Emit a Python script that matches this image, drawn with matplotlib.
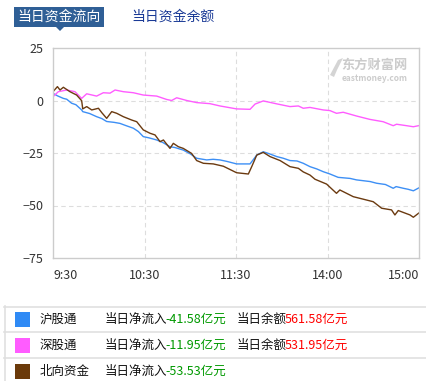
import matplotlib
matplotlib.use("Agg")
import matplotlib.pyplot as plt
from matplotlib.patches import Rectangle, Polygon
from matplotlib.lines import Line2D

plt.rcParams['font.family'] = ['Noto Sans CJK SC', 'DejaVu Sans']

# ---------------- data ----------------
x_ticks = [0, 60, 120, 180, 240]
x_tick_labels = ["9:30", "10:30", "11:30", "14:00", "15:00"]
y_ticks = [25, 0, -25, -50, -75]

sh_min = [0, 3, 6.8, 9, 12.2, 15, 18.8, 19.5, 24, 28.6, 32, 35.2, 40, 43.9, 48, 52.7, 56, 59.2, 63, 68, 72,
          76.7, 80, 85.4, 90, 94.2, 100.8, 105, 109.5, 114, 120.4, 129.2, 133.6, 137.9, 142, 146.7, 151,
          155.4, 160, 164.1, 168.5, 173, 177.2, 181.6, 187, 194.8, 199, 203.5, 208, 212.2, 218, 223.1,
          225, 229.7, 233, 236.3, 240]
sh_val = [3.4, 2.2, 1.0, 0.6, -1.3, -2.0, -4.5, -5.3, -6.2, -7.7, -8.6, -10.0, -10.4, -10.9, -12.0, -13.2,
          -14.8, -17.2, -17.8, -18.8, -20.0, -22.0, -22.4, -23.6, -25.4, -27.5, -28.3, -28.0, -28.3, -29.0,
          -30.2, -30.2, -26.0, -24.4, -25.4, -26.7, -27.5, -28.6, -28.8, -29.9, -31.5, -32.6, -33.9, -35.0,
          -36.6, -37.1, -37.8, -38.2, -38.6, -39.4, -40.0, -41.8, -41.0, -41.8, -42.3, -43.0, -41.58]

sz_min = [0, 3.5, 9.0, 14.4, 18.8, 22.1, 28.6, 33, 37.4, 40.7, 46.1, 52.7, 59.2, 68, 74.5, 77.8, 81.1,
          87.7, 94.2, 102.9, 109.5, 120.4, 129.2, 132.5, 137.9, 146.7, 155.4, 160.9, 164.1, 168.5, 177.2,
          181.6, 185.9, 190.3, 199.1, 207.8, 216.5, 223.1, 225.3, 231.9, 236.3, 240]
sz_val = [1.8, 4.2, 5.0, 4.2, 1.0, 3.2, 2.1, 3.7, 3.5, 5.0, 4.2, 3.7, 2.6, 2.1, 0.5, 0.0, 1.3,
          0.0, -1.0, -1.5, -2.6, -4.0, -4.2, -1.7, -0.2, -1.6, -2.9, -2.6, -3.7, -3.3, -4.5,
          -4.8, -6.1, -5.6, -7.4, -9.0, -10.1, -12.0, -11.3, -12.0, -12.5, -11.95]

nb_min = [0, 2.9, 4.6, 6.8, 11.1, 15.5, 18.8, 19.5, 22.1, 25.4, 29.8, 32, 35.2, 38.5, 41.8, 46.1, 51.6,
          54.9, 59.2, 63.6, 66.9, 70.2, 72.4, 76.7, 78.9, 82.2, 85.4, 90.9, 94.2, 98.6, 105.1, 111.7,
          120.4, 128.1, 130.3, 133.6, 137.9, 142.3, 148.9, 155.4, 160.9, 164.1, 168.5, 171.8, 179.4,
          185.9, 188.1, 196.9, 203.5, 210, 215.5, 222, 224.2, 226.4, 234.1, 236.3, 240]
nb_val = [4.2, 6.6, 5.0, 6.3, 4.2, 2.6, -0.1, -4.0, -2.9, -4.5, -3.7, -5.8, -8.5, -5.3, -6.1, -7.7, -9.3,
          -10.1, -14.0, -15.6, -16.4, -19.6, -18.8, -22.8, -20.4, -22.0, -22.8, -25.2, -28.6, -29.9, -30.2,
          -31.3, -34.4, -35.0, -31.5, -26.0, -24.7, -26.7, -28.6, -31.5, -32.3, -34.0, -35.5, -37.5, -39.8,
          -44.2, -42.6, -45.8, -47.0, -48.2, -51.3, -52.1, -54.5, -52.4, -54.5, -55.6, -53.53]

names = ["沪股通", "深股通", "北向资金"]
net_inflow = ["-41.58", "-11.95", "-53.53"]
balance = ["561.58", "531.95", None]
line_colors = ["#3d8ff5", "#ff5cff", "#6b3a10"]
box_colors = ["#2f8af5", "#ff5cff", "#6b3a0a"]

# ---------------- figure ----------------
W, H = 426, 381
fig = plt.figure(figsize=(W / 100, H / 100), dpi=100)
fig.patch.set_facecolor("white")

def fx(px):
    return px / W

def fy(py):
    return 1 - py / H

ax = fig.add_axes([fx(53), fy(258), 366 / W, 210 / H])
ax.plot(sh_min, sh_val, color=line_colors[0], lw=1.0)
ax.plot(sz_min, sz_val, color=line_colors[1], lw=1.0)
ax.plot(nb_min, nb_val, color=line_colors[2], lw=1.0)

ax.set_xlim(0, 240)
ax.set_ylim(-75, 25)
ax.set_xticks(x_ticks)
ax.set_xticklabels(x_tick_labels)
ax.set_yticks(y_ticks)
ax.tick_params(length=0, labelsize=9, colors="#333333")
ax.tick_params(axis="x", pad=8)
ax.tick_params(axis="y", pad=7)
labs = ax.get_xticklabels()
labs[0].set_ha("left")
labs[-1].set_ha("right")
for s in ax.spines.values():
    s.set_color("#cccccc")
    s.set_linewidth(1.0)
for yv in [0, -25, -50]:
    ax.axhline(yv, color="#dddddd", lw=0.8, ls=(0, (4, 3)), zorder=0)
for xv in [60, 120, 180]:
    ax.axvline(xv, color="#dddddd", lw=0.8, ls=(0, (4, 3)), zorder=0)

# watermark
ax.text(0.97, 0.955, "东方财富网", transform=ax.transAxes, ha="right", va="top",
        fontsize=9.5, color="#cccccc", fontweight="bold")
ax.text(0.97, 0.875, "eastmoney.com", transform=ax.transAxes, ha="right", va="top",
        fontsize=6, color="#cccccc", fontweight="bold")
# logo swoosh (shape)
fig.patches.append(Polygon([(fx(330), fy(75)), (fx(338), fy(60)), (fx(343), fy(58)),
                            (fx(337), fy(70)), (fx(334), fy(77))],
                           closed=True, transform=fig.transFigure,
                           facecolor="#d4d4d4", edgecolor="none"))

# ---------------- tabs ----------------
fig.patches.append(Rectangle((fx(14), fy(27)), 90 / W, 20 / H, transform=fig.transFigure,
                             facecolor="#2f5f96", edgecolor="none"))
fig.patches.append(Polygon([(fx(56), fy(27)), (fx(64), fy(27)), (fx(60), fy(31))],
                           closed=True, transform=fig.transFigure,
                           facecolor="#2f5f96", edgecolor="none"))
fig.text(fx(59), fy(17), "当日资金流向", ha="center", va="center", fontsize=10, color="white")
fig.text(fx(131), fy(17), "当日资金余额", ha="left", va="center", fontsize=10, color="#1a3a96")

# ---------------- legend table ----------------
for py in [306.5, 332, 358]:
    fig.lines.append(Line2D([fx(4), 1], [fy(py), fy(py)], transform=fig.transFigure,
                            color="#e0e0e0", lw=1.2))
fig.lines.append(Line2D([fx(4.5), fx(4.5)], [fy(306), 0], transform=fig.transFigure,
                        color="#e0e0e0", lw=1.2))

row_centers = [319.5, 345.5, 371.5]
for i, yc in enumerate(row_centers):
    fig.patches.append(Rectangle((fx(15), fy(yc + 7.5)), 15 / W, 15 / H, transform=fig.transFigure,
                                 facecolor=box_colors[i], edgecolor="none"))
    fig.text(fx(40), fy(yc), names[i], ha="left", va="center", fontsize=9, color="#111111")
    fig.text(fx(105), fy(yc), "当日净流入", ha="left", va="center", fontsize=9, color="#111111")
    fig.text(fx(165), fy(yc), net_inflow[i] + "亿元", ha="left", va="center", fontsize=9,
             color="#009900")
    if balance[i] is not None:
        fig.text(fx(237), fy(yc), "当日余额", ha="left", va="center", fontsize=9, color="#111111")
        fig.text(fx(285), fy(yc), balance[i] + "亿元", ha="left", va="center", fontsize=9,
                 color="#ff0000")

fig.savefig("out.png", dpi=100, facecolor="white")
